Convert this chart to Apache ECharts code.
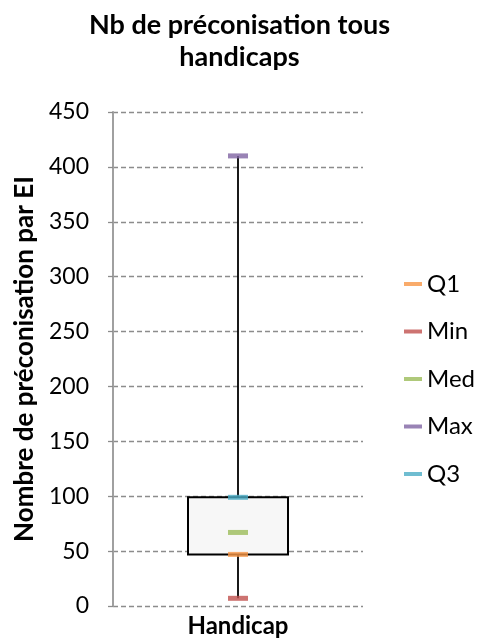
<!DOCTYPE html>
<html>
<head>
<meta charset="utf-8">
<script src="https://cdn.jsdelivr.net/npm/echarts@6/dist/echarts.min.js"></script>
<style>
  html, body { margin: 0; padding: 0; background: #fff; }
  #chart { width: 479px; height: 639px; }
</style>
</head>
<body>
<div id="chart"></div>
<script>
// Box-plot summary for "Nb de préconisation" (one category)
const categories = ['Handicap'];
const minVals = [7];
const q1Vals = [47];
const medVals = [67];
const q3Vals = [99];
const maxVals = [410];

const FONT = 'Lato, "Open Sans", sans-serif';
const COLORS = { Q1: '#F79646', Min: '#C0504D', Med: '#9BBB59', Max: '#8064A2', Q3: '#4BACC6' };

const chart = echarts.init(document.getElementById('chart'), null, { renderer: 'canvas' });

// Box (Q1..Q3) and whiskers (min..Q1, Q3..max)
const boxData = categories.map((c, i) => [i, minVals[i], q1Vals[i], q3Vals[i], maxVals[i]]);

function renderBox(params, api) {
  const x = api.value(0);
  const pMin = api.coord([x, api.value(1)]);
  const pQ1 = api.coord([x, api.value(2)]);
  const pQ3 = api.coord([x, api.value(3)]);
  const pMax = api.coord([x, api.value(4)]);
  const band = api.size([1, 0])[0];
  const w = band * 0.4;
  const lineStyle = { stroke: '#000', lineWidth: 1.8 };
  return {
    type: 'group',
    children: [
      { type: 'line', shape: { x1: pMin[0], y1: pMin[1], x2: pQ1[0], y2: pQ1[1] }, style: lineStyle },
      { type: 'line', shape: { x1: pQ3[0], y1: pQ3[1], x2: pMax[0], y2: pMax[1] }, style: lineStyle },
      { type: 'rect', shape: { x: pQ3[0] - w / 2, y: pQ3[1], width: w, height: pQ1[1] - pQ3[1] },
        style: { fill: '#F7F7F7', stroke: '#000', lineWidth: 2 } }
    ]
  };
}

function markerSeries(name, vals) {
  return {
    name: name,
    type: 'scatter',
    symbol: 'rect',
    symbolSize: [20, 5],
    itemStyle: { color: COLORS[name] },
    data: vals.map((v, i) => [i, v]),
    z: 5
  };
}

const option = {
  animation: false,
  title: {
    text: 'Nb de préconisation tous\nhandicaps',
    left: 'center',
    top: 4,
    textStyle: { fontFamily: FONT, fontWeight: 'bold', fontSize: 27, lineHeight: 32, color: '#000' }
  },
  legend: {
    orient: 'vertical',
    left: 399,
    top: 267,
    itemWidth: 18,
    itemHeight: 4,
    itemGap: 23.5,
    textStyle: { fontFamily: FONT, fontSize: 24, lineHeight: 24, color: '#000' },
    data: ['Q1', 'Min', 'Med', 'Max', 'Q3'].map(n => ({ name: n, icon: 'rect' }))
  },
  grid: { left: 113, right: 116, top: 112, bottom: 33 },
  xAxis: {
    type: 'category',
    data: categories,
    axisLine: { show: false },
    axisTick: { show: false },
    axisLabel: { fontFamily: FONT, fontWeight: 'bold', fontSize: 24, color: '#000', margin: 8 }
  },
  yAxis: {
    type: 'value',
    min: 0,
    max: 450,
    interval: 50,
    name: 'Nombre de préconisation par EI',
    nameLocation: 'middle',
    nameRotate: 90,
    nameGap: 75,
    nameTextStyle: { fontFamily: FONT, fontWeight: 'bold', fontSize: 26, color: '#000' },
    axisLine: { show: true, lineStyle: { color: '#A0A0A0', width: 2 } },
    axisTick: { show: true, length: 8, lineStyle: { color: '#8C8C8C', width: 1.3, type: [5, 3] } },
    axisLabel: { fontFamily: FONT, fontSize: 23, color: '#000', margin: 24 },
    splitLine: { show: true, lineStyle: { color: '#8C8C8C', width: 1.3, type: [5, 3] } }
  },
  series: [
    {
      type: 'custom',
      renderItem: renderBox,
      encode: { x: 0, y: [1, 2, 3, 4] },
      data: boxData,
      z: 3
    },
    markerSeries('Q1', q1Vals),
    markerSeries('Min', minVals),
    markerSeries('Med', medVals),
    markerSeries('Max', maxVals),
    markerSeries('Q3', q3Vals)
  ]
};

chart.setOption(option);
</script>
</body>
</html>
